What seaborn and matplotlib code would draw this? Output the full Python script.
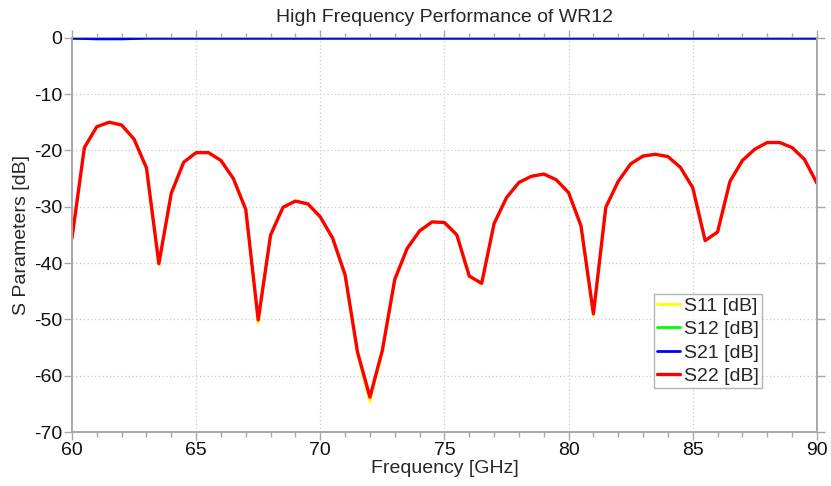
import numpy as np
import pandas as pd
import matplotlib
matplotlib.use("Agg")
import matplotlib.pyplot as plt
import seaborn as sns
from matplotlib import font_manager

freq = [60.0, 60.5, 61.0, 61.5, 62.0, 62.5, 63.0, 63.5, 64.0, 64.5,
        65.0, 65.5, 66.0, 66.5, 67.0, 67.5, 68.0, 68.5, 69.0, 69.5,
        70.0, 70.5, 71.0, 71.5, 72.0, 72.5, 73.0, 73.5, 74.0, 74.5,
        75.0, 75.5, 76.0, 76.5, 77.0, 77.5, 78.0, 78.5, 79.0, 79.5,
        80.0, 80.5, 81.0, 81.5, 82.0, 82.5, 83.0, 83.5, 84.0, 84.5,
        85.0, 85.5, 86.0, 86.5, 87.0, 87.5, 88.0, 88.5, 89.0, 89.5, 90.0]

s22 = [-35.6, -19.5, -15.8, -15.0, -15.5, -18.0, -23.1, -40.1, -27.6, -22.1,
       -20.4, -20.4, -21.8, -25.0, -30.5, -50.1, -35.0, -30.1, -29.0, -29.5,
       -31.8, -35.6, -42.1, -55.8, -63.8, -55.5, -42.9, -37.4, -34.3, -32.7,
       -32.8, -35.0, -42.3, -43.6, -33.0, -28.4, -25.7, -24.6, -24.2, -25.2,
       -27.5, -33.4, -49.0, -30.1, -25.5, -22.4, -21.0, -20.7, -21.1, -23.0,
       -26.6, -36.0, -34.5, -25.5, -21.8, -19.8, -18.6, -18.6, -19.5, -21.6, -25.8]

s11 = [-35.6, -19.5, -15.8, -15.0, -15.5, -18.0, -23.1, -40.3, -27.6, -22.1,
       -20.4, -20.4, -21.8, -25.0, -30.6, -50.6, -35.1, -30.1, -29.0, -29.5,
       -31.8, -35.6, -42.2, -56.2, -64.6, -55.8, -43.0, -37.4, -34.3, -32.7,
       -32.8, -35.0, -42.4, -43.7, -33.0, -28.4, -25.7, -24.6, -24.2, -25.2,
       -27.5, -33.5, -49.4, -30.1, -25.5, -22.4, -21.0, -20.7, -21.1, -23.0,
       -26.6, -36.1, -34.5, -25.5, -21.8, -19.8, -18.6, -18.6, -19.5, -21.6, -25.8]

s21 = [-0.1, -0.15, -0.2, -0.2, -0.2, -0.15, -0.1, -0.1, -0.1, -0.1,
       -0.1, -0.1, -0.1, -0.1, -0.1, -0.1, -0.1, -0.1, -0.1, -0.1,
       -0.1, -0.1, -0.1, -0.1, -0.1, -0.1, -0.1, -0.1, -0.1, -0.1,
       -0.1, -0.1, -0.1, -0.1, -0.1, -0.1, -0.1, -0.1, -0.1, -0.1,
       -0.1, -0.1, -0.1, -0.1, -0.1, -0.1, -0.1, -0.1, -0.1, -0.1,
       -0.1, -0.1, -0.1, -0.1, -0.1, -0.1, -0.1, -0.1, -0.1, -0.1, -0.1]

s12 = list(s21)

series_names = ["S11 [dB]", "S12 [dB]", "S21 [dB]", "S22 [dB]"]
series_colors = ["#ffff00", "#00ff00", "#0000ff", "#ff0000"]
x_ticks = [60, 65, 70, 75, 80, 85, 90]
y_ticks = [0, -10, -20, -30, -40, -50, -60, -70]

sns.set_style("white")
avail = {f.name for f in font_manager.fontManager.ttflist}
fam = [f for f in ["Liberation Sans Narrow", "Liberation Sans", "DejaVu Sans"] if f in avail]
plt.rcParams["font.family"] = fam
plt.rcParams["axes.unicode_minus"] = False

df = pd.concat([
    pd.DataFrame({"Frequency": freq, "Value": vals, "Series": name})
    for name, vals in zip(series_names, [s11, s12, s21, s22])
], ignore_index=True)

fig = plt.figure(figsize=(8.31, 4.86), dpi=100)
ax = fig.add_axes([0.0866, 0.111, 0.983 - 0.0866, 0.9224 - 0.111])

for name, color in zip(series_names, series_colors):
    sub = df[df["Series"] == name]
    lw = 2.4 if name == "S22 [dB]" else 2.0
    sns.lineplot(data=sub, x="Frequency", y="Value", ax=ax, color=color,
                 linewidth=lw, label=name, estimator=None, sort=False)

ax.set_xlim(60, 90)
ax.set_ylim(-70, 0)
ax.set_xticks(x_ticks)
ax.set_yticks(y_ticks)
ax.set_xticks(np.arange(60, 91, 1), minor=True)
ax.grid(True, which="major", linestyle=(0, (1, 2)), color="#cccccc", linewidth=0.9)
ax.set_axisbelow(True)

spine_col = "#a8a8a8"
for s in ax.spines.values():
    s.set_visible(True)
    s.set_color(spine_col)
    s.set_linewidth(1.4)
ax.spines["top"].set_zorder(1)

ax.tick_params(axis="both", which="major", direction="out", length=5.5, width=1.0,
               color=spine_col, labelsize=14, pad=1.5, labelcolor="#111111")
ax.tick_params(axis="x", which="both", top=True, bottom=True)
ax.tick_params(axis="y", which="both", left=True, right=True)
ax.tick_params(axis="x", which="minor", direction="out", length=3.5, width=1.0, color=spine_col)

ax.set_xlabel("Frequency [GHz]", fontsize=14, labelpad=1)
ax.set_ylabel("S Parameters [dB]", fontsize=14, labelpad=3)
ax.set_title("High Frequency Performance of WR12", fontsize=14, pad=11)

leg = ax.legend(loc="lower right", bbox_to_anchor=(0.926, 0.112), fontsize=14,
                frameon=True, fancybox=False, edgecolor="#a0a0a0",
                handlelength=1.2, handletextpad=0.2, labelspacing=0.3,
                borderpad=0.15, borderaxespad=0)
leg.get_frame().set_linewidth(1.0)

fig.savefig("out.png", dpi=100)
